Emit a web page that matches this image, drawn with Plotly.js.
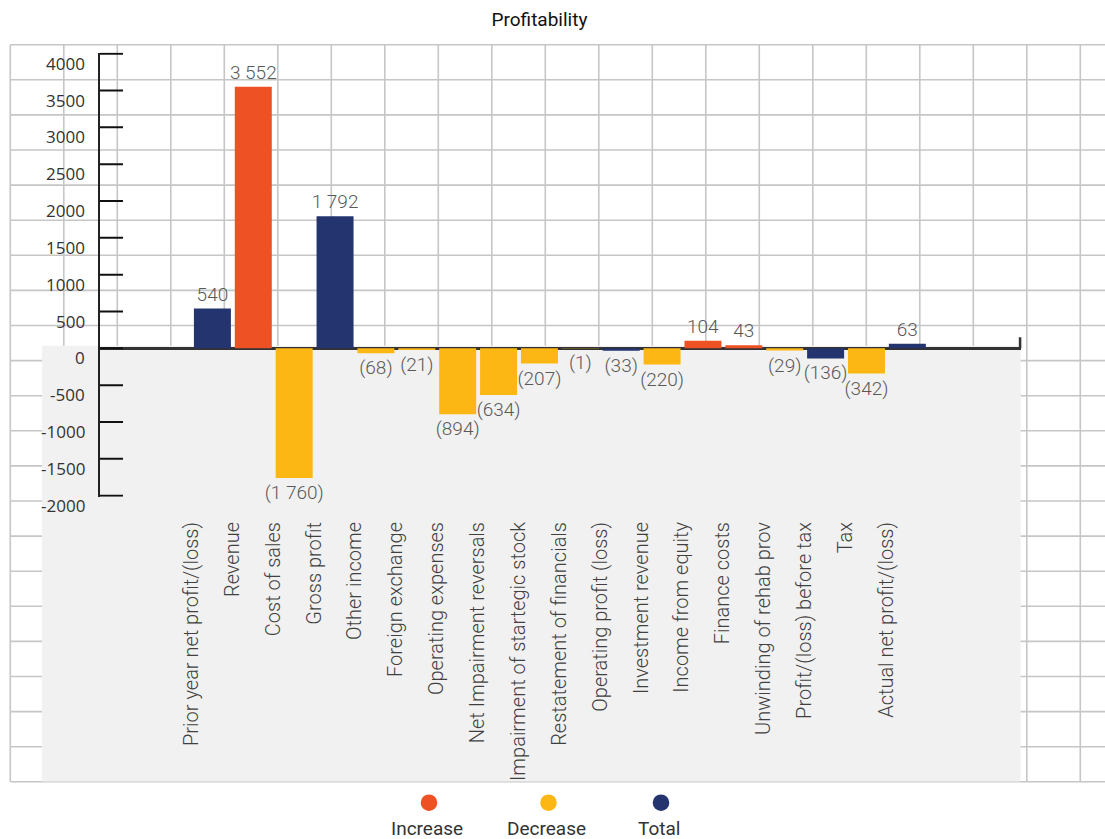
<!DOCTYPE html>
<html>
<head>
<meta charset="utf-8">
<script src="https://cdn.plot.ly/plotly-3.0.1.min.js"></script>
<style>
  html, body { margin: 0; padding: 0; background: #ffffff; }
  #chart { width: 1105px; height: 839px; }
</style>
</head>
<body>
<div id="chart"></div>
<script>
// ---- data ----
const categories = [
  "Prior year net profit/(loss)", "Revenue", "Cost of sales", "Gross profit",
  "Other income", "Foreign exchange", "Operating expenses", "Net Impairment reversals",
  "Impairment of startegic stock", "Restatement of financials", "Operating profit (loss)",
  "Investment revenue", "Income from equity", "Finance costs", "Unwinding of rehab prov",
  "Profit/(loss) before tax", "Tax", "Actual net profit/(loss)"
];
const values = [540, 3552, -1760, 1792, -68, -21, -894, -634, -207, -1, -33, -220, 104, 43, -29, -136, -342, 63];
const kinds = ["Total", "Increase", "Decrease", "Total", "Decrease", "Decrease", "Decrease", "Decrease",
  "Decrease", "Decrease", "Total", "Decrease", "Increase", "Increase", "Decrease", "Total", "Decrease", "Total"];
const seriesNames = ["Increase", "Decrease", "Total"];
const yTicks = [-2000, -1500, -1000, -500, 0, 500, 1000, 1500, 2000, 2500, 3000, 3500, 4000];

// ---- styling ----
const W = 1105, H = 839;
const colors = { Increase: "#EE5224", Decrease: "#FDB714", Total: "#24346E" };
const gridColor = "#c6c6c6";
const px = x => x / W;          // page pixel -> paper x
const py = y => 1 - y / H;      // page pixel -> paper y

// value labels: space as thousands separator, brackets for negatives
function fmt(v) {
  const s = Math.abs(v).toString().replace(/\B(?=(\d{3})+(?!\d))/g, " ");
  return v < 0 ? "(" + s + ")" : s;
}

const traces = seriesNames.map(name => {
  const idx = values.map((v, i) => i).filter(i => kinds[i] === name);
  return {
    type: "bar",
    name: name,
    x: idx.map(i => categories[i]),
    y: idx.map(i => values[i]),
    text: idx.map(i => fmt(values[i])),
    textposition: "outside",
    textangle: 0,
    constraintext: "none",
    cliponaxis: false,
    textfont: { family: "Roboto", size: 19, weight: 300, color: "#595959" },
    marker: { color: colors[name], line: { width: 0 } },
    hoverinfo: "skip",
    showlegend: false
  };
});

// spreadsheet-like background grid
const shapes = [];
const gx0 = 10.3, gy0 = 44.7, gdx = 53.5, gdy = 35.1;
for (let i = 0; i <= 20; i++) {
  const x = gx0 + i * gdx;
  shapes.push({ type: "line", xref: "paper", yref: "paper", layer: "below",
    x0: px(x), x1: px(x), y0: py(gy0), y1: py(gy0 + 21 * gdy),
    line: { color: gridColor, width: 1.6 } });
}
for (let j = 0; j <= 21; j++) {
  const y = gy0 + j * gdy;
  shapes.push({ type: "line", xref: "paper", yref: "paper", layer: "below",
    x0: px(gx0), x1: 1, y0: py(y), y1: py(y),
    line: { color: gridColor, width: 1.6 } });
}
// shaded panel behind the negative part and the category labels
shapes.push({ type: "rect", xref: "paper", yref: "paper", layer: "below",
  x0: px(42), x1: px(1020.7), y0: py(345.7), y1: py(781.5),
  fillcolor: "#f1f1f1", line: { width: 0 } });
// end cap of the horizontal axis
shapes.push({ type: "line", xref: "x domain", yref: "y", layer: "above",
  x0: 0.999, x1: 0.999, y0: 0, y1: 150,
  line: { color: "#333333", width: 2.5 } });

// value-axis tick marks pointing into the plot, including both end ticks
const tickLenFrac = 23 / (1021 - 100);
yTicks.forEach(v => {
  shapes.push({ type: "line", xref: "x domain", yref: "y", layer: "above",
    x0: 0, x1: tickLenFrac, y0: v, y1: v,
    line: { color: "#111111", width: 2 } });
});

const annotations = [];
// value-axis labels sit a little below their tick marks
yTicks.forEach(v => {
  annotations.push({ xref: "paper", yref: "y", x: px(86.5), y: v, yshift: -9.5,
    xanchor: "right", yanchor: "middle", showarrow: false, text: String(v),
    font: { family: "Open Sans", size: 17, color: "#333333" } });
});

// legend: coloured dots above their names
const legendX = { Increase: 429, Decrease: 548.5, Total: 661 };
seriesNames.forEach(name => {
  const cx = legendX[name];
  shapes.push({ type: "circle", xref: "paper", yref: "paper", layer: "above",
    x0: px(cx - 8.3), x1: px(cx + 8.3), y0: py(802.7 + 8.3), y1: py(802.7 - 8.3),
    fillcolor: colors[name], line: { width: 0 } });
  annotations.push({ xref: "paper", yref: "paper", x: px(cx - 2), y: py(839), yshift: -2,
    xanchor: "center", yanchor: "bottom", showarrow: false, text: name,
    borderpad: 0,
    font: { family: "Roboto", size: 19, weight: 400, color: "#333333" } });
});

const layout = {
  width: W, height: H,
  margin: { l: 0, r: 0, t: 0, b: 0 },
  paper_bgcolor: "#ffffff",
  plot_bgcolor: "rgba(0,0,0,0)",
  barmode: "overlay",
  bargap: 0.095,
  showlegend: false,
  title: {
    text: "Profitability",
    font: { family: "Roboto", size: 19, weight: 400, color: "#111111" },
    x: px(539.5), xanchor: "center", y: py(19), yanchor: "middle"
  },
  xaxis: {
    type: "category",
    categoryorder: "array",
    categoryarray: categories,
    range: [-2.75, 19.78],
    domain: [px(100), px(1021)],
    anchor: "free",
    position: py(517),
    showline: false, showgrid: false, zeroline: false,
    ticks: "",
    tickangle: -90,
    ticklabelshift: -21,
    tickfont: { family: "Roboto", size: 20, weight: 300, color: "#404040" },
    fixedrange: true
  },
  yaxis: {
    range: [-2015, 4015],
    domain: [py(496.8), py(52.6)],
    showticklabels: false,
    showline: true, linecolor: "#222222", linewidth: 2,
    ticks: "",
    showgrid: false,
    zeroline: true, zerolinecolor: "#333333", zerolinewidth: 2.5,
    fixedrange: true
  },
  shapes: shapes,
  annotations: annotations
};

Plotly.newPlot("chart", traces, layout, { displayModeBar: false, staticPlot: true });
</script>
</body>
</html>
